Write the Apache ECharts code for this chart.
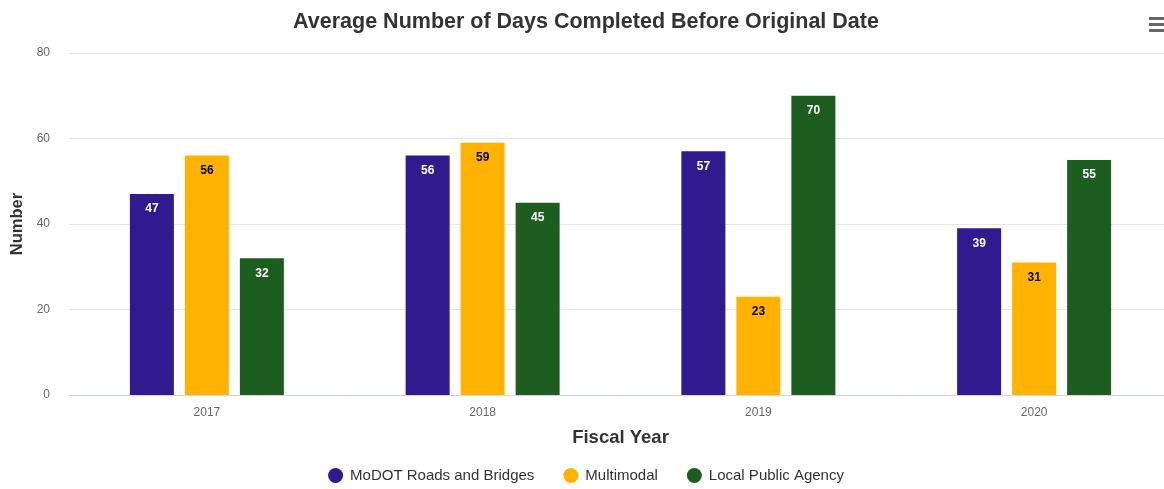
<!DOCTYPE html>
<html><head><meta charset="utf-8">
<script src="https://cdn.jsdelivr.net/npm/echarts@6/dist/echarts.min.js"></script>
<style>html,body{margin:0;padding:0;background:#fff;overflow:hidden}#c{width:1172px;height:489px}</style>
</head><body><div id="c"></div>
<script>
const categories = ['2017', '2018', '2019', '2020'];
const seriesNames = ['MoDOT Roads and Bridges', 'Multimodal', 'Local Public Agency'];
const modot = [47, 56, 57, 39];
const multimodal = [56, 59, 23, 31];
const lpa = [32, 45, 70, 55];
const yTicks = [0, 20, 40, 60, 80];

const colors = ['#2f1a8f', '#ffb300', '#1d5e20'];
const labelColors = ['#ffffff', '#000000', '#ffffff'];
const values = [modot, multimodal, lpa];
const font = 'Liberation Sans, Arial, sans-serif';

const chart = echarts.init(document.getElementById('c'));
chart.setOption({
  animation: false,
  textStyle: { fontFamily: font },
  title: {
    text: 'Average Number of Days Completed Before Original Date',
    left: 'center', top: 6,
    textStyle: { fontSize: 21.5, fontWeight: 'bold', color: '#333', fontFamily: font }
  },
  legend: {
    bottom: 1, left: 'center', icon: 'circle', itemWidth: 15, itemHeight: 15, itemGap: 29,
    textStyle: { fontSize: 15, color: '#333', fontFamily: font, padding: [0, 0, 0, 2] },
    data: seriesNames
  },
  grid: { left: 69, right: 0, top: 53, bottom: 94, containLabel: false, outerBoundsMode: 'none' },
  xAxis: {
    type: 'category', data: categories,
    name: 'Fiscal Year', nameLocation: 'middle', nameGap: 33,
    nameTextStyle: { fontSize: 18.5, fontWeight: 'bold', color: '#333', fontFamily: font },
    axisLine: { lineStyle: { color: '#ccd6eb' } },
    axisTick: { show: false },
    axisLabel: { color: '#666', fontSize: 12, margin: 12 }
  },
  yAxis: {
    type: 'value', min: yTicks[0], max: yTicks[yTicks.length - 1], interval: 20,
    name: 'Number', nameLocation: 'middle', nameGap: 42, nameRotate: 90,
    nameTextStyle: { fontSize: 16.5, fontWeight: 'bold', color: '#333', fontFamily: font },
    axisLine: { show: false }, axisTick: { show: false },
    axisLabel: { color: '#666', fontSize: 12, margin: 19 },
    splitLine: { lineStyle: { color: '#e6e6e6' } }
  },
  graphic: [
    { type: 'rect', right: 8, top: 17, shape: { width: 15, height: 3 }, style: { fill: '#666' } },
    { type: 'rect', right: 8, top: 23, shape: { width: 15, height: 3 }, style: { fill: '#666' } },
    { type: 'rect', right: 8, top: 29, shape: { width: 15, height: 3 }, style: { fill: '#666' } }
  ],
  series: seriesNames.map((n, i) => ({
    name: n, type: 'bar', data: values[i],
    barWidth: 44, barGap: '25%',
    itemStyle: { color: colors[i] },
    label: {
      show: true, position: 'insideTop', distance: 9,
      color: labelColors[i], fontSize: 12, fontWeight: 'bold', fontFamily: font
    }
  }))
});
</script></body></html>
